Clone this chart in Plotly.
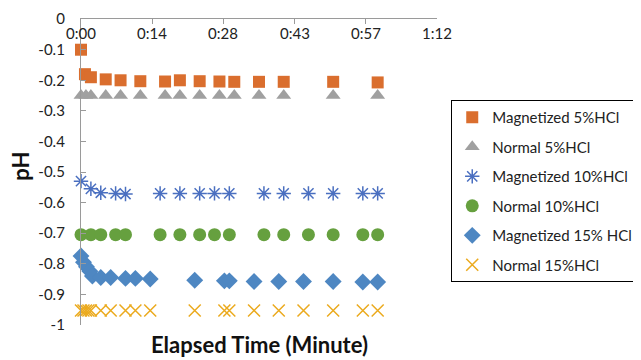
import plotly.graph_objects as go

# ---- data ----
t_m5 = [0, 0.8, 2, 5, 8, 12, 17, 20, 24, 28, 31, 36, 41, 51, 60]
ph_m5 = [-0.10, -0.18, -0.19, -0.197, -0.20, -0.203, -0.204, -0.20, -0.203, -0.204, -0.205, -0.205, -0.205, -0.205, -0.207]

t_n5 = [0, 1, 2, 5, 8, 12, 17, 20, 24, 28, 31, 36, 41, 51, 60]
ph_n5 = [-0.25] * 15

t_m10 = [0, 2, 4, 7, 9, 16, 20, 24, 27, 30, 37, 41, 46, 51, 57, 60]
ph_m10 = [-0.53, -0.555, -0.568, -0.57, -0.572, -0.57, -0.57, -0.57, -0.57, -0.57, -0.57, -0.57, -0.57, -0.57, -0.57, -0.57]

t_n10 = [0, 2, 4, 7, 9, 16, 20, 24, 27, 30, 37, 41, 46, 51, 57, 60]
ph_n10 = [-0.705] * 16

t_m15 = [0, 0.5, 1.1, 1.8, 2.3, 4, 6, 9, 11, 14, 23, 29, 30, 35, 40, 45, 51, 57, 60]
ph_m15 = [-0.775, -0.795, -0.81, -0.825, -0.84, -0.845, -0.845, -0.848, -0.848, -0.85,
          -0.854, -0.856, -0.856, -0.858, -0.858, -0.858, -0.858, -0.86, -0.86]

t_n15 = [0, 0.5, 1, 1.5, 2, 4, 6, 9, 11, 14, 23, 29, 30, 35, 40, 45, 51, 57, 60]
ph_n15 = [-0.953] * 19

x_tickvals = [0, 14.4, 28.8, 43.2, 57.6, 72]
x_ticktext = ["0:00", "0:14", "0:28", "0:43", "0:57", "1:12"]
y_tickvals = [0, -0.1, -0.2, -0.3, -0.4, -0.5, -0.6, -0.7, -0.8, -0.9, -1]
y_ticktext = ["0", "-0.1", "-0.2", "-0.3", "-0.4", "-0.5", "-0.6", "-0.7", "-0.8", "-0.9", "-1"]

series = [
    ("Magnetized 5%HCl", t_m5, ph_m5, dict(symbol="square", size=12, color="#DA6E2E")),
    ("Normal 5%HCl", t_n5, ph_n5, dict(symbol="triangle-up", size=13, color="#A0A0A0")),
    ("Magnetized 10%HCl", t_m10, ph_m10, dict(symbol="asterisk-open", size=12, color="#4A6FC0",
                                              line=dict(color="#4A6FC0", width=1.5))),
    ("Normal 10%HCl", t_n10, ph_n10, dict(symbol="circle", size=13, color="#66A03F")),
    ("Magnetized 15% HCl", t_m15, ph_m15, dict(symbol="diamond", size=13, color="#4E87C2")),
    ("Normal 15%HCl", t_n15, ph_n15, dict(symbol="x-thin-open", size=12, color="#EBAA1E",
                                          line=dict(color="#EBAA1E", width=1.5))),
]

fig = go.Figure()
for i, (name, xs, ys, mk) in enumerate(series):
    fig.add_trace(go.Scatter(x=xs, y=ys, mode="markers", name=name, marker=mk,
                             legendgroup=f"g{i}", cliponaxis=False))

font_family = "Lato, 'Open Sans', sans-serif"

# x tick labels sit just below the top axis line, inside the plot (Excel style)
x_label_annotations = [
    dict(text=lab, xref="x", yref="paper", x=v, y=1, yshift=-14,
         xanchor="center", yanchor="middle", showarrow=False,
         font=dict(size=15, color="#222", family=font_family))
    for v, lab in zip(x_tickvals, x_ticktext)
]

# page body has an 8px margin, so the figure is 8px smaller and shifted
fig.update_layout(
    width=633, height=352,
    margin=dict(l=73, r=204, t=11, b=35, autoexpand=False),
    paper_bgcolor="white", plot_bgcolor="white",
    font=dict(family=font_family, size=15, color="#222"),
    showlegend=True,
    legend=dict(
        x=1.04, xanchor="left", y=0.735, yanchor="top",
        bordercolor="#000", borderwidth=1, bgcolor="white",
        font=dict(size=15, color="#222"),
        tracegroupgap=7, traceorder="grouped",
    ),
    xaxis=dict(
        range=[0, 72], side="top", tickvals=x_tickvals, ticktext=x_ticktext,
        showticklabels=False, automargin=False,
        showline=True, linecolor="#9a9a9a", linewidth=1.3,
        ticks="inside", ticklen=5, tickcolor="#9a9a9a",
        showgrid=False, zeroline=False,
    ),
    yaxis=dict(
        range=[-1.0005, 0.0005], tickvals=y_tickvals, ticktext=y_ticktext, automargin=False,
        showline=True, linecolor="#9a9a9a", linewidth=1.3,
        ticks="inside", ticklen=5, tickcolor="#9a9a9a",
        showgrid=False, zeroline=False, ticklabelstandoff=12,
        ticklabeloverflow="allow",
        tickfont=dict(size=15, color="#222"),
    ),
    annotations=x_label_annotations + [
        dict(text="<b>Elapsed Time (Minute)</b>", xref="paper", yref="paper",
             x=0.5, y=-0.065, xanchor="center", yanchor="middle", showarrow=False,
             font=dict(size=22, color="#111", family=font_family)),
        dict(text="<b>pH</b>", xref="paper", yref="paper", textangle=-90,
             x=-0.169, y=0.52, xanchor="center", yanchor="middle", showarrow=False,
             font=dict(size=22, color="#111", family=font_family)),
    ],
)

fig.write_html("out.html")
